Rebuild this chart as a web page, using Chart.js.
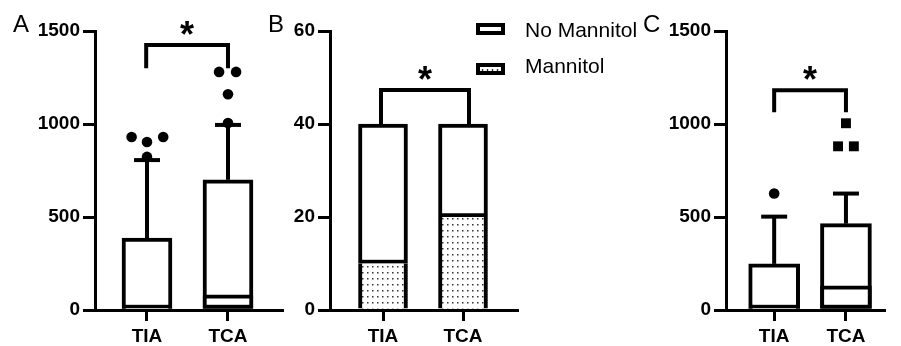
<!DOCTYPE html>
<html>
<head>
<meta charset="utf-8">
<script src="https://cdn.jsdelivr.net/npm/chart.js@4.4.0/dist/chart.umd.min.js"></script>
<style>
  body { margin: 0; background: #fff; }
  #wrap { position: relative; width: 901px; height: 346px; overflow: hidden; font-family: 'Liberation Sans', Arial, sans-serif; color: #000; }
  canvas { position: absolute; top: 0; }
  .panel { position: absolute; font-size: 24px; line-height: 24px; }
  .leg-box { position: absolute; left: 476px; width: 29px; height: 12px; border: 4px solid #000; box-sizing: border-box; background: #fff; }
  .leg-box.dots { background: radial-gradient(circle, #333 0.8px, #fff 1.2px) 0 0 / 5px 6px; }
  .leg-text { position: absolute; left: 525px; font-size: 21px; line-height: 21px; white-space: nowrap; }
</style>
</head>
<body>
<div id="wrap">
  <canvas id="chartA" width="300" height="346" style="left:0"></canvas>
  <canvas id="chartB" width="300" height="346" style="left:250px"></canvas>
  <canvas id="chartC" width="261" height="346" style="left:640px"></canvas>

  <div class="panel" style="left:13px;top:12px">A</div>
  <div class="panel" style="left:268px;top:12px">B</div>
  <div class="panel" style="left:643px;top:12px">C</div>

  <div class="leg-box" style="top:23px"></div>
  <div class="leg-text" style="top:19px">No Mannitol</div>
  <div class="leg-box dots" style="top:63px"></div>
  <div class="leg-text" style="top:55px">Mannitol</div>
</div>

<script>
// ---------- data ----------
const categories = ['TIA', 'TCA'];

// panel A (box plots)
const aQ1 = [8, 8];
const aMedian = [10, 82];
const aQ3 = [387, 700];
const aWhiskerTop = [806, 995];
const aOutliers = [[930, 903, 930, 823], [1280, 1280, 1160, 1005]];
const aBracket = [1300, 1425];

// panel B (stacked counts)
const bMannitol = [10, 20];
const bNoMannitol = [30, 20];
const bBracket = [40, 47.3];

// panel C (box plots)
const cQ1 = [8, 8];
const cMedian = [10, 130];
const cQ3 = [248, 464];
const cWhiskerTop = [502, 626];
const cOutliers = [[626], [1004, 880, 880]];
const cBracket = [1063, 1182];

// ---------- styling ----------
Chart.defaults.font.family = "'Liberation Sans', Arial, sans-serif";
Chart.defaults.color = '#000';

const tickFont = { size: 19, weight: 'bold' };

// small horizontal spread of outlier dots
const aJitter = [[-0.19, 0, 0.2, 0], [-0.11, 0.1, 0, 0]];
const cJitter = [[0], [0, -0.11, 0.11]];

// asterisk above the significance bracket
const sigStar = {
  id: 'sigStar',
  afterDraw(chart, args, opts) {
    const { ctx, scales } = chart;
    const px = scales.x.getPixelForValue((opts.x0 + opts.x1) / 2);
    const py = scales.y.getPixelForValue(opts.top) - 17;
    ctx.save();
    ctx.font = "bold 36px 'Liberation Sans', Arial, sans-serif";
    ctx.fillStyle = '#000';
    ctx.textAlign = 'center';
    ctx.textBaseline = 'alphabetic';
    const m = ctx.measureText('*');
    const off = (m.actualBoundingBoxAscent - m.actualBoundingBoxDescent) / 2;
    ctx.fillText('*', px, py + off);
    ctx.restore();
  }
};

function makeScales(xmin, xmax, ymax, step, yWidth, stacked) {
  return {
    x: {
      type: 'linear', min: xmin, max: xmax, stacked: stacked, offset: false,
      afterBuildTicks: s => { s.ticks = [{ value: 1 }, { value: 2 }]; },
      afterFit: s => { s.height = 36; },
      ticks: { callback: v => categories[v - 1] || '', font: tickFont, padding: 4, maxRotation: 0, autoSkip: false },
      grid: { offset: false, drawOnChartArea: false, tickLength: 11, lineWidth: 3, color: '#000' },
      border: { display: true, width: 3, color: '#000' }
    },
    y: {
      min: 0, max: ymax, stacked: stacked,
      afterFit: s => { s.width = yWidth; },
      ticks: { stepSize: step, font: tickFont, padding: 3, callback: v => String(v) },
      grid: { drawOnChartArea: false, tickLength: 12, lineWidth: 3, color: '#000' },
      border: { display: true, width: 3, color: '#000' }
    }
  };
}

function bracketSet(x0, x1, legs) {
  return {
    type: 'line',
    data: [{ x: x0, y: legs[0] }, { x: x0, y: legs[1] }, { x: x1, y: legs[1] }, { x: x1, y: legs[0] }],
    borderColor: '#000', borderWidth: 4, pointRadius: 0, borderJoinStyle: 'miter', order: 0
  };
}

function boxSets(q1, med, q3, top, outliers, jitter, shapes, width) {
  const ds = [];
  categories.forEach((c, i) => {
    ds.push({
      type: 'line',
      data: [{ x: i + 1, y: q3[i] }, { x: i + 1, y: top[i] }],
      borderColor: '#000', borderWidth: 4,
      pointRadius: [0, 13], pointStyle: 'line', pointBorderColor: '#000', pointBorderWidth: 4,
      order: 3
    });
    ds.push({
      type: 'line', showLine: false,
      data: outliers[i].map((v, k) => ({ x: i + 1 + jitter[i][k], y: v })),
      pointStyle: shapes[i], pointRadius: shapes[i] === 'rect' ? 7 : 5.3,
      pointBackgroundColor: '#000', pointBorderWidth: 0,
      order: 0
    });
  });
  ds.push({
    type: 'bar', grouped: false,
    data: categories.map((c, i) => ({ x: i + 1, y: [q1[i], q3[i]] })),
    backgroundColor: '#fff', borderColor: '#000', borderWidth: 4, borderSkipped: false,
    barThickness: width, order: 2
  });
  ds.push({
    type: 'bar', grouped: false,
    data: categories.map((c, i) => ({ x: i + 1, y: [q1[i], med[i]] })),
    backgroundColor: '#fff', borderColor: '#000', borderWidth: 4, borderSkipped: false,
    barThickness: width, order: 1
  });
  return ds;
}

const common = {
  responsive: false, animation: false, devicePixelRatio: 1,
  events: []
};

// ---------- panel A ----------
new Chart(document.getElementById('chartA'), {
  type: 'bar',
  data: {
    datasets: boxSets(aQ1, aMedian, aQ3, aWhiskerTop, aOutliers, aJitter, ['circle', 'circle'], 50)
      .concat([bracketSet(0.99, 2, aBracket)])
  },
  options: Object.assign({}, common, {
    layout: { padding: { left: 0, top: 31, right: 18, bottom: 0 } },
    scales: makeScales(0.358, 2.667, 1500, 500, 95, false),
    plugins: { legend: { display: false }, tooltip: { enabled: false },
               sigStar: { x0: 0.99, x1: 2, top: aBracket[1] } }
  }),
  plugins: [sigStar]
});

// ---------- panel B ----------
const ctxB = document.getElementById('chartB').getContext('2d');
function dotPattern(ctx) {
  const c = document.createElement('canvas');
  c.width = 5; c.height = 6;
  const g = c.getContext('2d');
  g.fillStyle = '#fff'; g.fillRect(0, 0, 5, 6);
  g.fillStyle = '#333'; g.fillRect(2, 2, 1.5, 1.5);
  return ctx.createPattern(c, 'repeat');
}

new Chart(ctxB, {
  type: 'bar',
  data: {
    datasets: [
      {
        label: 'Mannitol',
        data: categories.map((c, i) => ({ x: i + 1, y: bMannitol[i] })),
        backgroundColor: dotPattern(ctxB), borderColor: '#000',
        borderWidth: { top: 0, left: 4, right: 4, bottom: 0 }, borderSkipped: false,
        barThickness: 49, order: 1
      },
      {
        label: 'No Mannitol',
        data: categories.map((c, i) => ({ x: i + 1, y: bNoMannitol[i] })),
        backgroundColor: '#fff', borderColor: '#000',
        borderWidth: { top: 4, left: 4, right: 4, bottom: 4 }, borderSkipped: false,
        barThickness: 49, order: 2
      },
      bracketSet(0.975, 2.075, bBracket)
    ]
  },
  options: Object.assign({}, common, {
    layout: { padding: { left: 0, top: 31, right: 33, bottom: 0 } },
    scales: makeScales(0.3375, 2.675, 60, 20, 80, true),
    plugins: { legend: { display: false }, tooltip: { enabled: false },
               sigStar: { x0: 0.975, x1: 2.075, top: bBracket[1] } }
  }),
  plugins: [sigStar]
});

// ---------- panel C ----------
new Chart(document.getElementById('chartC'), {
  type: 'bar',
  data: {
    datasets: boxSets(cQ1, cMedian, cQ3, cWhiskerTop, cOutliers, cJitter, ['circle', 'rect'], 51)
      .concat([bracketSet(1, 2, cBracket)])
  },
  options: Object.assign({}, common, {
    layout: { padding: { left: 0, top: 31, right: 1, bottom: 0 } },
    scales: makeScales(0.329, 2.53, 1500, 500, 86, false),
    plugins: { legend: { display: false }, tooltip: { enabled: false },
               sigStar: { x0: 1, x1: 2, top: cBracket[1] } }
  }),
  plugins: [sigStar]
});
</script>
</body>
</html>
